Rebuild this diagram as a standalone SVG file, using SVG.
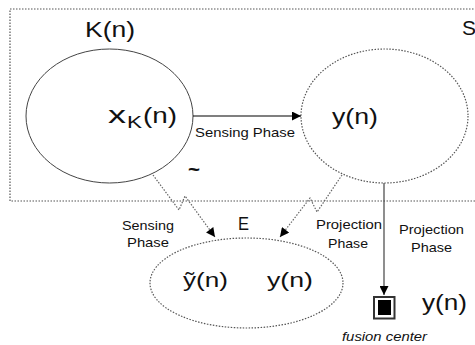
<svg xmlns="http://www.w3.org/2000/svg" width="475" height="345" viewBox="0 0 475 345">
<style>
text{font-family:"Liberation Sans",Arial,sans-serif;fill:#111}
.big{font-size:21px}
.lbl{font-size:13.5px}
.dot{fill:none;stroke:#555;stroke-width:1.2;stroke-dasharray:1.5 1.5}
.solid{fill:none;stroke:#444;stroke-width:1}
.conn{fill:none;stroke:#666;stroke-width:1.2;stroke-dasharray:1.5 1.5}
</style>
<defs>
<marker id="ah" viewBox="0 0 10 10" refX="10" refY="5" markerWidth="10" markerHeight="9" markerUnits="userSpaceOnUse" orient="auto">
<path d="M0,0 L10,5 L0,10 z" fill="#000"/>
</marker>
</defs>
<g id="region-S">
<rect x="10" y="9" width="480" height="192" class="dot" stroke="#666"/>
<text class="big" x="462" y="35" font-size="22">S</text>
</g>
<g id="node-K">
<ellipse cx="109.5" cy="116" rx="83.5" ry="67" class="solid"/>
<text x="85" y="37" font-size="22" textLength="50" lengthAdjust="spacingAndGlyphs">K(n)</text>
<text x="108" y="123" font-size="23" textLength="18" lengthAdjust="spacingAndGlyphs">x</text>
<text x="127" y="128" font-size="16" textLength="15" lengthAdjust="spacingAndGlyphs">K</text>
<text x="143" y="123" font-size="22" textLength="34" lengthAdjust="spacingAndGlyphs">(n)</text>
</g>
<g id="node-y">
<ellipse cx="384.5" cy="116" rx="83.5" ry="67" class="dot"/>
<text x="332" y="124" font-size="22" textLength="46" lengthAdjust="spacingAndGlyphs">y(n)</text>
</g>
<g id="node-E">
<ellipse cx="246.5" cy="283" rx="96.5" ry="45" class="dot"/>
<text x="238" y="230" font-size="18" textLength="11" lengthAdjust="spacingAndGlyphs">E</text>
<text x="183" y="287" font-size="21" textLength="45" lengthAdjust="spacingAndGlyphs">ỹ(n)</text>
<text x="267" y="287" font-size="21" textLength="46" lengthAdjust="spacingAndGlyphs">y(n)</text>
</g>
<g id="node-fusion">
<rect x="374" y="297" width="20.5" height="21.5" fill="#fff" stroke="#333" stroke-width="2"/>
<rect x="378" y="300" width="13" height="15" fill="#000"/>
<text x="422" y="310" font-size="22" textLength="45" lengthAdjust="spacingAndGlyphs">y(n)</text>
<text x="342" y="341" font-size="12.5" font-style="italic" textLength="85" lengthAdjust="spacingAndGlyphs">fusion center</text>
</g>
<g id="connectors">
<line x1="193" y1="116" x2="301" y2="116" stroke="#000" stroke-width="1.2" marker-end="url(#ah)"/>
<text class="lbl" x="195" y="137" textLength="100" lengthAdjust="spacingAndGlyphs">Sensing Phase</text>
<text x="188" y="176" font-size="20" font-weight="bold" textLength="12" lengthAdjust="spacingAndGlyphs">~</text>
<polyline points="153,175 179,210 185,196 215,237" class="conn" marker-end="url(#ah)"/>
<text class="lbl" x="148" y="230" text-anchor="middle" textLength="52" lengthAdjust="spacingAndGlyphs">Sensing</text>
<text class="lbl" x="148" y="247" text-anchor="middle" textLength="42" lengthAdjust="spacingAndGlyphs">Phase</text>
<polyline points="342,175 317,212 310,198 280,237" class="conn" marker-end="url(#ah)"/>
<text class="lbl" x="349" y="229" text-anchor="middle" textLength="66" lengthAdjust="spacingAndGlyphs">Projection</text>
<text class="lbl" x="348" y="248" text-anchor="middle" textLength="40" lengthAdjust="spacingAndGlyphs">Phase</text>
<line x1="384" y1="183" x2="384" y2="295" stroke="#444" stroke-width="1.2" marker-end="url(#ah)"/>
<text class="lbl" x="431.5" y="234" text-anchor="middle" textLength="65" lengthAdjust="spacingAndGlyphs">Projection</text>
<text class="lbl" x="431.5" y="252" text-anchor="middle" textLength="41" lengthAdjust="spacingAndGlyphs">Phase</text>
</g>
</svg>
